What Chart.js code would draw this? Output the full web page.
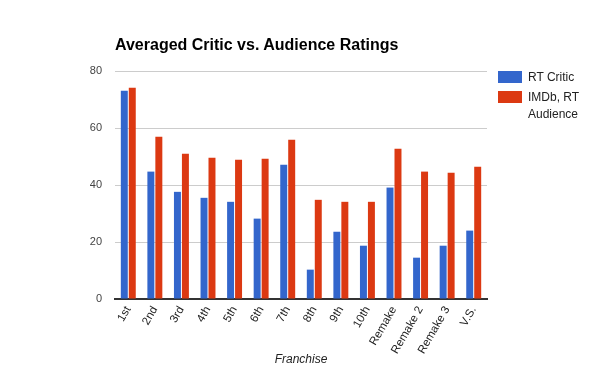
<!DOCTYPE html>
<html>
<head>
<meta charset="utf-8">
<script src="https://cdn.jsdelivr.net/npm/chart.js@4.4.0/dist/chart.umd.min.js"></script>
<style>
	body { margin: 0; background: #fff; font-family: Arial, "Liberation Sans", sans-serif; }
	#wrap { position: relative; width: 600px; height: 371px; }
	#title { position: absolute; left: 115px; top: 36px; font-size: 16px; font-weight: bold; color: #000; }
	#legend { position: absolute; left: 498px; top: 69px; font-size: 12px; color: #222; line-height: 17px; }
	.item { display: flex; align-items: flex-start; margin-bottom: 3px; }
	.sw { width: 24px; height: 12px; margin-right: 6px; margin-top: 2px; flex: none; }
</style>
</head>
<body>
<div id="wrap">
	<canvas id="chart" width="600" height="371"></canvas>
	<div id="title">Averaged Critic vs. Audience Ratings</div>
	<div id="legend"></div>
</div>
<script>
const categories = ['1st', '2nd', '3rd', '4th', '5th', '6th', '7th', '8th', '9th', '10th', 'Remake', 'Remake 2', 'Remake 3', 'V.S.']
const rtCritic = [73.1, 44.7, 37.6, 35.5, 34.1, 28.2, 47.1, 10.3, 23.6, 18.7, 39.1, 14.5, 18.7, 24.0]
const audience = [74.1, 56.9, 51.0, 49.6, 48.9, 49.2, 55.9, 34.8, 34.1, 34.1, 52.7, 44.7, 44.3, 46.4]
const seriesNames = ['RT Critic', 'IMDb, RT Audience']
const seriesColors = ['#3366cc', '#dc3912']

// Legend built as html so the long label can wrap like the original
const legend = document.getElementById('legend')
seriesNames.forEach((name, i) => {
	const item = document.createElement('div')
	item.className = 'item'
	const sw = document.createElement('div')
	sw.className = 'sw'
	sw.style.background = seriesColors[i]
	const txt = document.createElement('div')
	txt.style.width = '70px'
	txt.textContent = name
	item.appendChild(sw)
	item.appendChild(txt)
	legend.appendChild(item)
})

new Chart(document.getElementById('chart'), {
	type: 'bar',
	data: {
		labels: categories,
		datasets: [
			{ label: seriesNames[0], data: rtCritic, backgroundColor: seriesColors[0] },
			{ label: seriesNames[1], data: audience, backgroundColor: seriesColors[1] }
		]
	},
	options: {
		responsive: false,
		animation: false,
		categoryPercentage: 0.6,
		barPercentage: 0.875,
		layout: { padding: { left: 0, right: 113, top: 71, bottom: 0 } },
		plugins: {
			legend: { display: false },
			tooltip: { enabled: false }
		},
		scales: {
			x: {
				grid: { display: false, drawTicks: false },
				border: { color: '#333', width: 2 },
				ticks: {
					color: '#222',
					font: { family: 'Arial', size: 11.5 },
					minRotation: 60,
					maxRotation: 60,
					autoSkip: false,
					padding: 5
				},
				title: {
					display: true,
					text: 'Franchise',
					color: '#222',
					font: { family: 'Arial', size: 12, style: 'italic' },
					padding: { top: 0, bottom: 4 }
				},
				afterFit: scale => { scale.height = 72 }
			},
			y: {
				min: 0,
				max: 80,
				grid: { color: '#cccccc', drawTicks: false },
				border: { display: false },
				ticks: {
					stepSize: 20,
					color: '#444',
					font: { family: 'Arial', size: 11 },
					padding: 13
				},
				afterFit: scale => { scale.width = 115 }
			}
		}
	}
})
</script>
</body>
</html>
